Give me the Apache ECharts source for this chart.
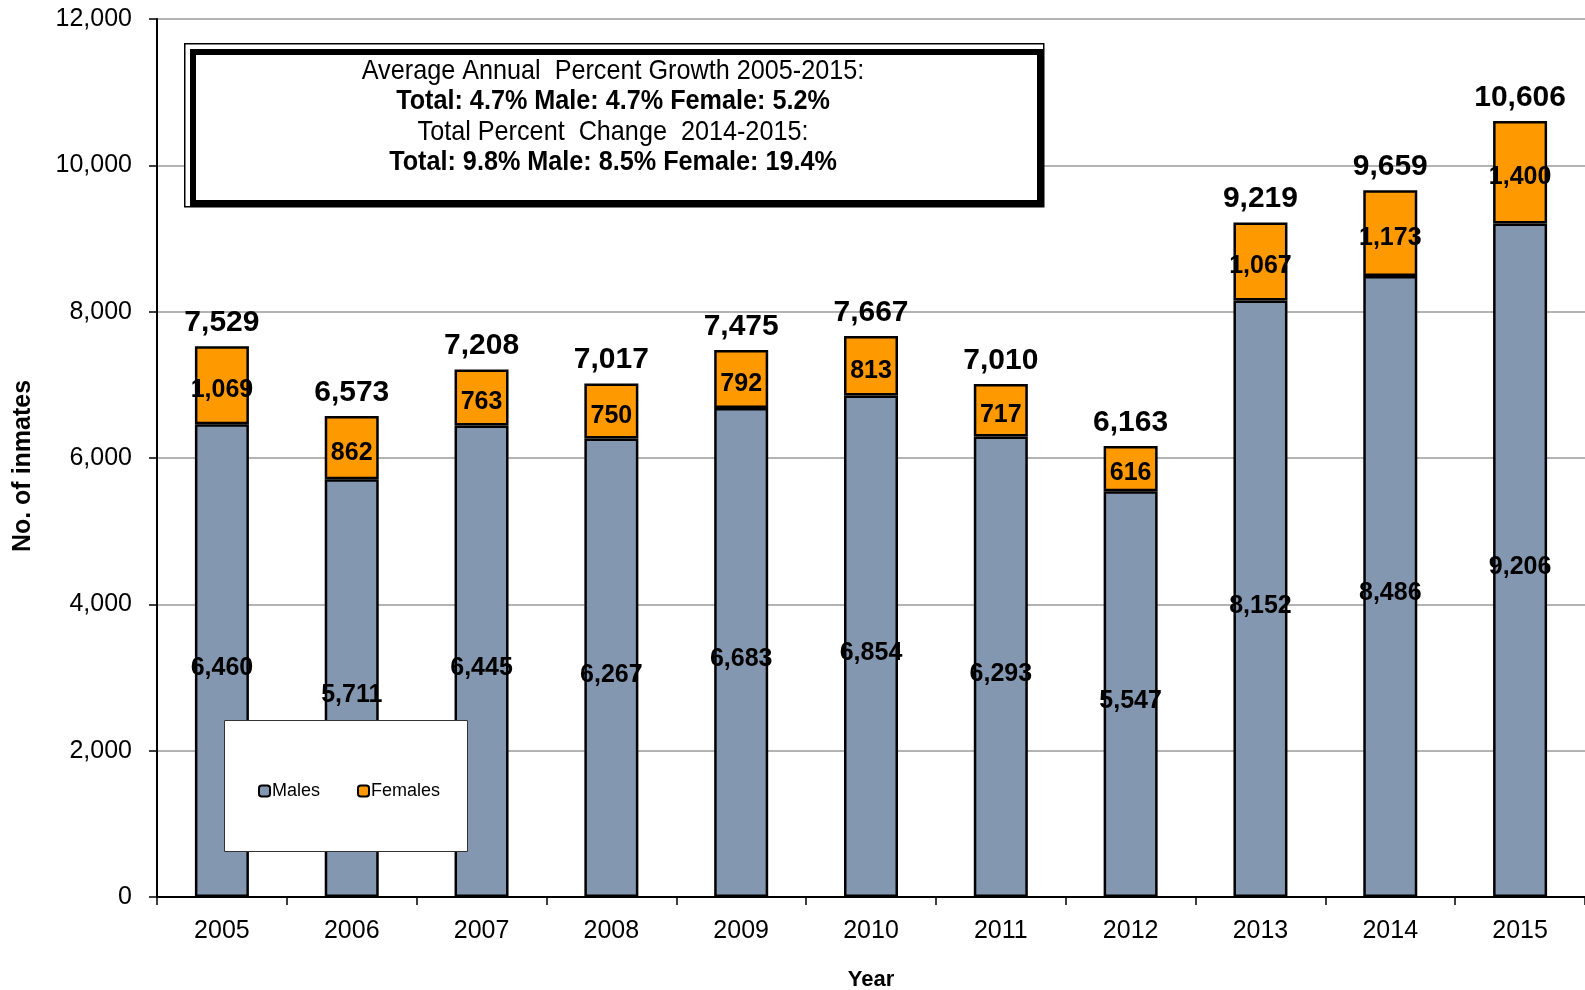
<!DOCTYPE html>
<html>
<head>
<meta charset="utf-8">
<title>No. of inmates 2005-2015</title>
<script src="https://cdn.jsdelivr.net/npm/echarts@6/dist/echarts.min.js"></script>
<style>
  html, body { margin: 0; padding: 0; background: #fff; }
  #chart { width: 1585px; height: 990px; }
</style>
</head>
<body>
<div id="chart"></div>
<script>
// data
const years = ['2005', '2006', '2007', '2008', '2009', '2010', '2011', '2012', '2013', '2014', '2015'];
const males = [6460, 5711, 6445, 6267, 6683, 6854, 6293, 5547, 8152, 8486, 9206];
const females = [1069, 862, 763, 750, 792, 813, 717, 616, 1067, 1173, 1400];
const yTicks = [0, 2000, 4000, 6000, 8000, 10000, 12000];
const noteLines = [
  'Average Annual  Percent Growth 2005-2015:',
  'Total: 4.7% Male: 4.7% Female: 5.2%',
  'Total Percent  Change  2014-2015:',
  'Total: 9.8% Male: 8.5% Female: 19.4%'
];

const totals = males.map((m, i) => m + females[i]);
const fmt = v => Number(v).toLocaleString('en-US');
const FONT = '"Liberation Sans", Arial, sans-serif';

const chart = echarts.init(document.getElementById('chart'));

const segLabel = (dy) => ({
  show: true,
  position: 'inside',
  offset: [0, dy],
  color: '#000',
  fontFamily: FONT,
  fontWeight: 'bold',
  fontSize: 25,
  formatter: p => fmt(p.value)
});

// note box text, narrow font imitated with scaleX
const noteText = noteLines.map((t, i) => ({
  type: 'text',
  x: 613,
  y: 71 + i * 30.5,
  scaleX: 0.9,
  z: 17,
  style: {
    text: t,
    textAlign: 'center',
    textVerticalAlign: 'middle',
    font: (i % 2 ? 'bold ' : '') + '28px ' + FONT,
    fill: '#000'
  }
}));

chart.setOption({
  animation: false,
  backgroundColor: '#fff',
  grid: { left: 157, right: 0, top: 19, bottom: 93, outerBoundsMode: 'none', containLabel: false },
  legend: {
    data: ['Males', 'Females'],
    left: 253,
    top: 777,
    itemWidth: 11,
    itemHeight: 11,
    itemGap: 37,
    z: 20,
    textStyle: { fontFamily: FONT, fontSize: 18, color: '#000', padding: [0, 0, 0, -3] },
    itemStyle: { borderColor: '#000', borderWidth: 2 }
  },
  xAxis: {
    type: 'category',
    data: years,
    name: 'Year',
    nameLocation: 'middle',
    nameGap: 72,
    nameTextStyle: { fontFamily: FONT, fontWeight: 'bold', fontSize: 22, color: '#000' },
    axisLine: { lineStyle: { color: '#000', width: 2 } },
    axisTick: { show: true, alignWithLabel: false, length: 8, lineStyle: { color: '#000', width: 1.5 } },
    axisLabel: { fontFamily: FONT, fontSize: 25, color: '#000', margin: 22 }
  },
  yAxis: {
    type: 'value',
    min: yTicks[0],
    max: yTicks[yTicks.length - 1],
    interval: yTicks[1] - yTicks[0],
    name: 'No. of inmates',
    nameLocation: 'middle',
    nameGap: 121,
    nameTextStyle: { fontFamily: FONT, fontWeight: 'bold', fontSize: 25, color: '#000', padding: [0, 16, 0, 0] },
    axisLine: { show: true, lineStyle: { color: '#000', width: 2 } },
    axisTick: { show: true, length: 8, lineStyle: { color: '#000', width: 1.5 } },
    axisLabel: { fontFamily: FONT, fontSize: 25, color: '#000', margin: 25, formatter: v => fmt(v) },
    splitLine: { show: true, lineStyle: { color: '#9a9a9a', width: 1.5 } }
  },
  series: [
    {
      name: 'Males',
      type: 'bar',
      stack: 'total',
      barWidth: 54,
      data: males,
      itemStyle: { color: '#8497B0', borderColor: '#000', borderWidth: 2.5 },
      label: segLabel(7)
    },
    {
      name: 'Females',
      type: 'bar',
      stack: 'total',
      barWidth: 54,
      data: females,
      itemStyle: { color: '#FF9900', borderColor: '#000', borderWidth: 2.5 },
      label: segLabel(5)
    },
    {
      name: 'Total',
      type: 'line',
      data: totals,
      symbol: 'circle',
      symbolSize: 1,
      itemStyle: { color: 'rgba(0,0,0,0)' },
      lineStyle: { width: 0, opacity: 0 },
      silent: true,
      z: 10,
      label: {
        show: true,
        position: 'top',
        distance: 8,
        color: '#000',
        fontFamily: FONT,
        fontWeight: 'bold',
        fontSize: 30,
        formatter: p => fmt(p.value)
      }
    }
  ],
  graphic: [
    // note box with double border
    {
      type: 'rect', left: 184, top: 43, z: 15,
      shape: { width: 859, height: 163 },
      style: { fill: '#fff', stroke: '#000', lineWidth: 1.5 }
    },
    {
      type: 'rect', left: 190, top: 49, z: 16,
      shape: { width: 847, height: 151 },
      style: { fill: '#fff', stroke: '#000', lineWidth: 6 }
    },
    ...noteText,
    // legend box
    {
      type: 'rect', left: 224, top: 720, z: 18,
      shape: { width: 243, height: 131 },
      style: { fill: '#fff', stroke: '#333', lineWidth: 1 }
    }
  ]
});
</script>
</body>
</html>
